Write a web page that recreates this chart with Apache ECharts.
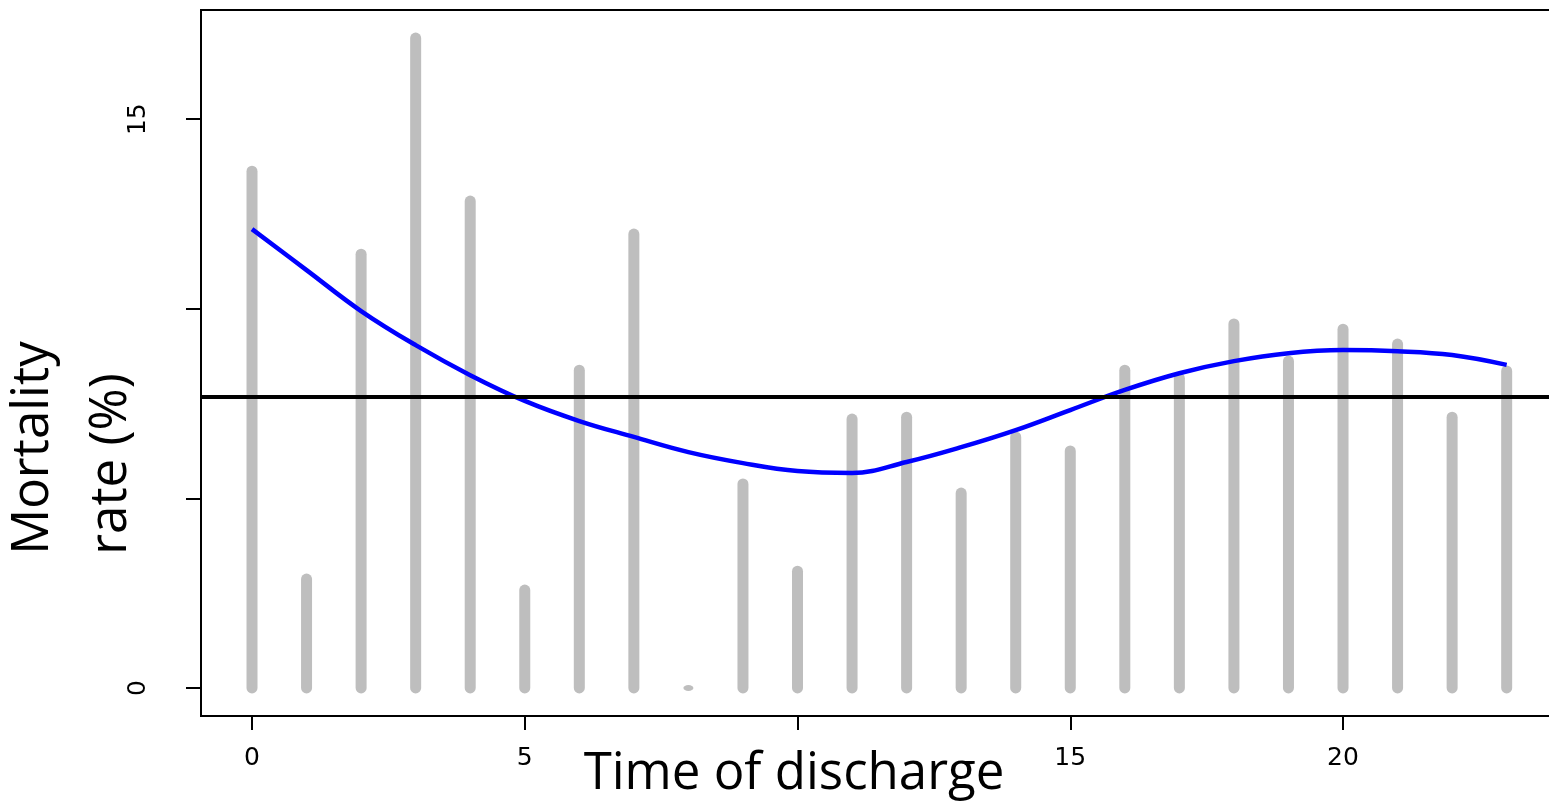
<!DOCTYPE html>
<html>
<head>
<meta charset="utf-8">
<script src="https://cdn.jsdelivr.net/npm/echarts@6/dist/echarts.min.js"></script>
<style>
html,body{margin:0;padding:0;background:#fff;}
#chart{width:1549px;height:801px;}
</style>
</head>
<body>
<div id="chart"></div>
<script>
// Data
const hours = [0,1,2,3,4,5,6,7,8,9,10,11,12,13,14,15,16,17,18,19,20,21,22,23];
const mortality = [13.63,2.87,11.44,17.14,12.84,2.58,8.38,11.97,0,5.38,3.08,7.09,7.14,5.14,6.62,6.25,8.38,8.17,9.60,8.62,9.46,9.07,7.14,8.36];
const smoothFit = [12.10,11.02,9.94,9.04,8.25,7.57,7.04,6.62,6.22,5.93,5.72,5.67,5.96,6.35,6.80,7.33,7.86,8.30,8.62,8.83,8.91,8.88,8.78,8.52];
const overallRate = 7.67;
const xTicks = [0,5,10,15,20];
const xTickLabels = [0,5,15,20];
const yTicks = [0,5,10,15];
const yTickLabels = [0,15];

const chart = echarts.init(document.getElementById('chart'));
const tickFont = {fontFamily:'DejaVu Sans', fontSize:25, color:'#000'};
const titleFont = '51px "Open Sans"';
const option = {
  animation:false,
  backgroundColor:'#fff',
  grid:{left:201, top:10, right:0, bottom:85, show:false},
  xAxis:{type:'value', min:-0.935, max:23.776,
    axisLine:{show:false, onZero:false},
    splitLine:{show:false},
    axisTick:{show:true, length:14, customValues:xTicks, lineStyle:{color:'#000', width:2}},
    axisLabel:{show:true, customValues:xTickLabels, margin:30, ...tickFont}
  },
  yAxis:{type:'value', min:-0.74, max:17.88,
    axisLine:{show:false, onZero:false},
    splitLine:{show:false},
    axisTick:{show:true, length:15, customValues:yTicks, lineStyle:{color:'#000', width:2}},
    axisLabel:{show:true, customValues:yTickLabels, rotate:90, margin:50, ...tickFont}
  },
  series:[
    {type:'custom', data: hours.map((h,i)=>[h, mortality[i]]),
     renderItem:function(params, api){
       const p0 = api.coord([api.value(0), 0]);
       const p1 = api.coord([api.value(0), api.value(1)]);
       if (Math.abs(p0[1]-p1[1]) < 1) {
         return {type:'ellipse', shape:{cx:p0[0], cy:p0[1], rx:5, ry:3}, style:{fill:'#BEBEBE'}};
       }
       return {type:'line', shape:{x1:p0[0], y1:p0[1], x2:p1[0], y2:p1[1]},
         style:{stroke:'#BEBEBE', lineWidth:11, lineCap:'round'}};
     }, z:1},
    {type:'line', data: hours.map((h,i)=>[h, smoothFit[i]]), smooth:0.4, showSymbol:false,
     lineStyle:{color:'#0000FF', width:4.5}, z:3,
     markLine:{silent:true, symbol:'none', label:{show:false},
       lineStyle:{color:'#000', width:4, type:'solid'},
       data:[{yAxis:overallRate}]}}
  ],
  graphic:[
    {type:'polyline', z:10, shape:{points:[[1570,10],[201,10],[201,716],[1570,716]]},
     style:{stroke:'#000', lineWidth:2, fill:null}},
    {type:'text', x:33, y:448, rotation:Math.PI/2,
     style:{text:'Mortality', font:titleFont, fill:'#000', textAlign:'center', textVerticalAlign:'middle'}},
    {type:'text', x:111, y:464, rotation:Math.PI/2,
     style:{text:'rate (%)', font:titleFont, fill:'#000', textAlign:'center', textVerticalAlign:'middle'}},
    {type:'text', x:794, y:774,
     style:{text:'Time of discharge', font:titleFont, fill:'#000', textAlign:'center', textVerticalAlign:'middle'}}
  ]
};
chart.setOption(option);
</script>
</body>
</html>
